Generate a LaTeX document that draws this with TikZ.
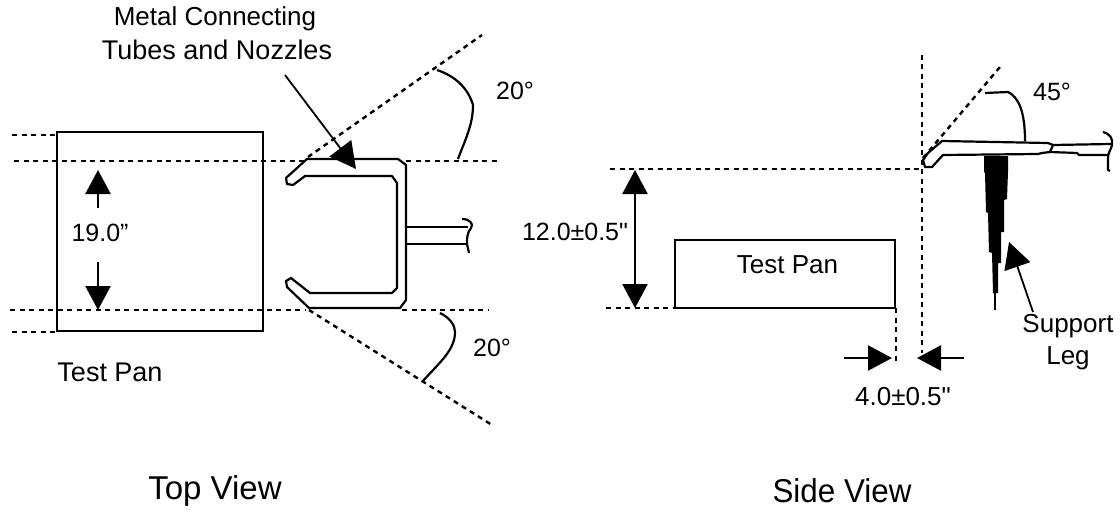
\documentclass[tikz,border=0pt]{standalone}
\usepackage{fontspec}
\setmainfont{Liberation Sans}
\newfontfamily\plainquote{Liberation Sans}
\usetikzlibrary{arrows.meta, positioning}

\begin{document}
\begin{tikzpicture}[x=1pt,y=-1pt,font=\fontsize{25}{30}\selectfont]

    \tikzset{
    % Line styles for the outlines and the dotted guides
    guide/.style={line width=2.4pt, dash pattern=on 5pt off 4.5pt},
    part/.style={line width=2.2pt, line join=round},
    pan/.style={draw, line width=2.2pt, outer sep=0pt},
    % Two pointer styles: large dimension heads and small label heads
    bighead/.style={line width=2.4pt, -{Triangle[length=24pt,width=25pt]}},
    pointer/.style={line width=1.8pt, -{Triangle[length=26pt,width=27pt]}},
    largetext/.style={font=\fontsize{26}{30}\selectfont},
    widetext/.style={font=\fontsize{27}{30}\selectfont},
    title/.style={font=\fontsize{33}{36}\selectfont}
    }

    \useasboundingbox (0,0) rectangle (1120,511);

    % Top view
    \node[pan, minimum width=206pt, minimum height=199pt, anchor=north west] (toppan) at (57,132) {};

    \draw[guide] (12,135) -- (57,135);
    \draw[guide] (12,332) -- (57,332);
    \draw[guide] (14,161) -- (305,161);
    \draw[guide] (406,161) -- (497,161);
    \draw[guide] (10,310) -- (305,310);
    \draw[guide] (402,310) -- (488,310);
    \draw[guide] (308,157) -- (482,35);
    \draw[guide] (309,310) -- (492,425);

    % Angle arcs
    \draw[part] (437,70) .. controls (455,76) and (468,88) .. (473,105)
        .. controls (473,125) and (465,140) .. (458,159);
    \draw[part] (440,313) .. controls (450,318) and (455,325) .. (455,332)
        .. controls (455,350) and (440,362) .. (422,382);

    % Tube outline
    \draw[part] (307,159) -- (398,159) -- (406,165) -- (406,300) -- (400,308) -- (309,308)
        -- (287,287) -- (286,281) -- (291,278) -- (310,293) -- (392,293) -- (397,288)
        -- (397,183) -- (392,176) -- (305,176) -- (293,185) -- (287,184) -- (286,178) -- cycle;
    \draw[part] (406,227) -- (468,227);
    \draw[part] (406,244) -- (467,244);
    \draw[part] (462,219) .. controls (470,219) and (474,224) .. (471,228)
        .. controls (467,233) and (467,238) .. (467,244) -- (469,253);

    % Top view labels
    \node[largetext] (metal) at (215,19) {Metal Connecting};
    \node[widetext] (tubes) at (217,50) {Tubes and Nozzles};
    \node (topangle1) at (515,91) {20°};
    \node (topangle2) at (492,348) {20°};
    \node (width) at (100,233) {19.0”};
    \node[widetext] (toplabel) at (110,372) {Test Pan};
    \node[title] (topview) at (215,491) {Top View};

    \coordinate (tubes tail) at (285,75);
    \coordinate (tubes tip) at (356,169);
    \draw[pointer] (tubes tail) -- (tubes tip);

    \coordinate (width top) at (98,170);
    \coordinate (width bottom) at (98,310);
    \coordinate (width uptail) at (98,208);
    \coordinate (width downtail) at (98,262);
    \draw[bighead] (width uptail) -- (width top);
    \draw[bighead] (width downtail) -- (width bottom);

    % Side view
    \node[pan, minimum width=220pt, minimum height=68pt, anchor=north west] (sidepan) at (675,240) {};
    \node[largetext] (sidelabel) at (787.5,265) {Test Pan};

    \draw[guide] (610,169) -- (920,169);
    \draw[guide] (606,308) -- (sidepan.south west);
    \draw[guide] (922,55) -- (922,353);
    \draw[guide] (896,308) -- (896,365);
    \draw[guide] (923,158) -- (1000,67);

    \draw[part] (985,93) -- (1008,92) .. controls (1018,97) and (1025,110) .. (1025,141);

    % Side tube and break
    \draw[part] (942,141) -- (1048,143) -- (1053,145) -- (1050,152) -- (1042,153) -- (1038,154)
        -- (943,155) -- (932,167) -- (925,167) -- (923,160) -- (928,153) -- cycle;
    \draw[part] (1053,145) -- (1111,144);
    \draw[part] (1050,152) -- (1077,153) -- (1079,155) -- (1108,155);
    \draw[part] (1103,132) .. controls (1110,134) and (1113,138) .. (1112,145)
        .. controls (1111,150) and (1108,152) .. (1108,158) -- (1108,170) -- (1110,171);

    % Support leg
    \fill (984,156) -- (1008,156) -- (1008,172) -- (1007,199) -- (1004,200) -- (1004,232)
        -- (1001,232) -- (1001,263) -- (998,263) -- (998,293) -- (993,293) -- (992,253)
        -- (989,252) -- (988,213) -- (986,212) -- (985,173) -- (984,172) -- cycle;
    \draw[line width=1.6pt] (995,292) -- (995,310);

    % Side view labels
    \node (sideangle) at (1052,92) {45°};
    \node (height) at (575,232) {12.0±0.5{\plainquote"}};
    \node[largetext] (gap) at (903,397) {4.0±0.5{\plainquote"}};
    \node[largetext] (support) at (1068,326) {Support};
    \node[largetext] (leg) at (1068,358) {Leg};
    \node[title, xscale=0.95] (sideview) at (842,491) {Side View};

    \coordinate (height top) at (635,170);
    \coordinate (height bottom) at (635,308);
    \draw[bighead, {Triangle[length=24pt,width=25pt]}-{Triangle[length=24pt,width=25pt]}] (height top) -- (height bottom);

    \coordinate (gap lefttail) at (844,358);
    \coordinate (gap lefttip) at (892,358);
    \coordinate (gap righttail) at (964,358);
    \coordinate (gap righttip) at (917,358);
    \draw[bighead] (gap lefttail) -- (gap lefttip);
    \draw[bighead] (gap righttail) -- (gap righttip);

    \coordinate (leg tail) at (1033,312);
    \coordinate (leg tip) at (1009,242);
    \draw[pointer] (leg tail) -- (leg tip);

\end{tikzpicture}
\end{document}
